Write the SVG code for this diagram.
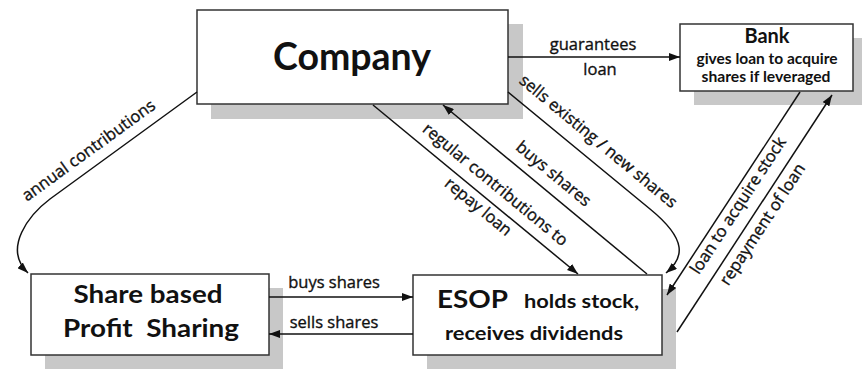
<svg xmlns="http://www.w3.org/2000/svg" width="862" height="369" viewBox="0 0 862 369">
<style>
.shadow{fill:#c8c8c8}
.box{fill:#fff;stroke:#333;stroke-width:1.5}
.t{font-family:"Open Sans","Noto Sans","DejaVu Sans",sans-serif;fill:#111}
.title{font-family:Lato,"Open Sans","DejaVu Sans",sans-serif;font-weight:700}
.lbl{font-size:16.5px;text-anchor:middle;stroke:#111;stroke-width:0.35}
.ln{fill:none;stroke:#111;stroke-width:1.5}
</style>
<defs>
<marker id="ah" viewBox="0 0 11 8" refX="11" refY="4" markerWidth="11" markerHeight="8" markerUnits="userSpaceOnUse" orient="auto">
<path d="M0,0 L11,4 L0,8 z" fill="#111"/>
</marker>
</defs>
<rect width="862" height="369" fill="#fff"/>

<g id="company">
<rect class="shadow" x="211" y="24" width="312" height="95"/>
<rect class="box" x="197" y="10" width="311" height="94"/>
<text class="t title" x="352" y="70" font-size="38" text-anchor="middle" textLength="158" lengthAdjust="spacingAndGlyphs">Company</text>
</g>

<g id="bank">
<rect class="shadow" x="694" y="38" width="173" height="67"/>
<rect class="box" x="680" y="24" width="173" height="67"/>
<text class="t title" x="767" y="43" font-size="20" text-anchor="middle">Bank</text>
<text class="t title" x="767" y="64" font-size="14.5" text-anchor="middle" textLength="141" lengthAdjust="spacingAndGlyphs">gives loan to acquire</text>
<text class="t title" x="766" y="82" font-size="14.5" text-anchor="middle" textLength="129" lengthAdjust="spacingAndGlyphs">shares if leveraged</text>
</g>

<g id="profit-sharing">
<rect class="shadow" x="45" y="288" width="238" height="81"/>
<rect class="box" x="31" y="274" width="238" height="81"/>
<text class="t title" x="148" y="303" font-size="24" text-anchor="middle" textLength="149" lengthAdjust="spacingAndGlyphs">Share based</text>
<text class="t title" x="151" y="337" font-size="24" text-anchor="middle" textLength="176" lengthAdjust="spacingAndGlyphs" xml:space="preserve">Profit  Sharing</text>
</g>

<g id="esop">
<rect class="shadow" x="427" y="289" width="249" height="80"/>
<rect class="box" x="413" y="275" width="249" height="80"/>
<text class="t title" x="437" y="308" font-size="24" textLength="71" lengthAdjust="spacingAndGlyphs">ESOP</text>
<text class="t title" x="524" y="308" font-size="19" textLength="115" lengthAdjust="spacingAndGlyphs">holds stock,</text>
<text class="t title" x="445" y="340" font-size="19" textLength="178" lengthAdjust="spacingAndGlyphs">receives dividends</text>
</g>

<g id="connectors">
<path class="ln" marker-end="url(#ah)" d="M508,57 L680,57"/>
<path class="ln" marker-end="url(#ah)" d="M197,92 L50,199 C30,214 2,248 28,273"/>
<path class="ln" marker-end="url(#ah)" d="M373,105 L578,274"/>
<path class="ln" marker-end="url(#ah)" d="M647,274 L443,105"/>
<path class="ln" marker-end="url(#ah)" d="M508,92 L650,209 C688,240 684,258 666,273"/>
<path class="ln" marker-end="url(#ah)" d="M800,92 L667,295"/>
<path class="ln" marker-end="url(#ah)" d="M677,332 L832,95"/>
<path class="ln" marker-end="url(#ah)" d="M269,297 L413,297"/>
<path class="ln" marker-end="url(#ah)" d="M413,334 L269,334"/>

<text class="t lbl" x="593" y="50">guarantees</text>
<text class="t lbl" x="600" y="75">loan</text>
<text class="t lbl" transform="translate(197,92) rotate(-36)" x="-122" y="-11">annual contributions</text>
<text class="t lbl" transform="translate(373,105) rotate(39.5)" x="145" y="-11">regular contributions to</text>
<text class="t lbl" transform="translate(373,105) rotate(39.5)" x="146" y="17">repay loan</text>
<text class="t lbl" transform="translate(443,105) rotate(39.6)" x="129" y="-12">buys shares</text>
<text class="t lbl" transform="translate(508,92) rotate(39.5)" x="101" y="-14">sells existing / new shares</text>
<text class="t lbl" transform="translate(800,92) rotate(-56.7)" x="-129" y="16">loan to acquire stock</text>
<text class="t lbl" transform="translate(677,332) rotate(-56.8)" x="137" y="18">repayment of loan</text>
<text class="t lbl" x="334" y="288">buys shares</text>
<text class="t lbl" x="334" y="328">sells shares</text>
</g>
</svg>
